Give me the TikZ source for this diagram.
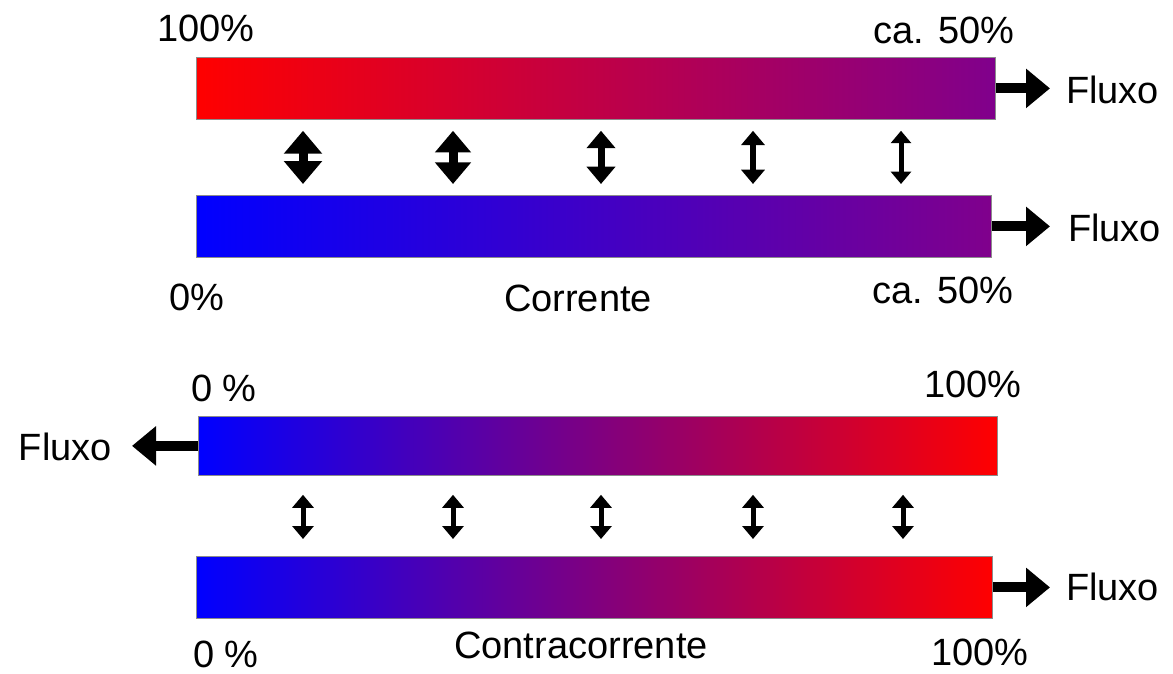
\documentclass[tikz,border=0pt]{standalone}
\usepackage{fontspec}
\setmainfont{Liberation Sans}
\usetikzlibrary{arrows.meta}
\definecolor{hotred}{RGB}{255,0,0}
\definecolor{coldblue}{RGB}{0,0,255}
\definecolor{mixpurple}{RGB}{128,0,140}
\begin{document}
\begin{tikzpicture}[x=1pt,y=-1pt,
  bar/.style={rectangle, inner sep=0pt, anchor=north west, draw=black!45,
    line width=0.8pt, minimum height=62pt},
  lbl/.style={font=\fontsize{38}{40}\selectfont, inner sep=0pt},
  flow/.style={line width=10pt, -{Triangle[width=38pt,length=24pt]}},
]
\useasboundingbox (0,0) rectangle (1173,674);

% --- co-current exchanger ---
\node[bar, minimum width=799pt, left color=hotred, right color=mixpurple] (b1) at (196,57) {};
\node[bar, minimum width=795pt, left color=coldblue, right color=mixpurple] (b2) at (196,195) {};

\node[lbl] (t1) at (206,28) {100\%};
\node[lbl] (t2) at (944,30) {ca. 50\%};
\node[lbl] (t3) at (197,297) {0\%};
\node[lbl] (t4) at (578,298) {Corrente};
\node[lbl] (t5) at (943,290) {ca. 50\%};

\node[lbl, anchor=west] (f1) at (1066,90) {Fluxo};
\node[lbl, anchor=west] (f2) at (1068,228) {Fluxo};
\draw[flow] (b1.east) -- ([xshift=-16pt]b1.east -| f1.west);
\draw[flow] (b2.east) -- ([xshift=-18pt]b2.east -| f2.west);

% exchange arrows shrink along the flow
\foreach \d/\w/\s in {107/37/9, 257/35/9, 405/28/7, 557/23/6, 705/20/5}
  \draw[line width=\s pt,
        {Triangle[width=\w pt,length=0.62*\w pt]}-{Triangle[width=\w pt,length=0.62*\w pt]}]
    ([shift={(\d,11)}]b1.south west) -- ([shift={(\d,-11)}]b2.north west);

% --- counter-current exchanger ---
\node[bar, minimum width=799pt, minimum height=59pt, left color=coldblue, right color=hotred] (b3) at (198,416) {};
\node[bar, minimum width=796pt, left color=coldblue, right color=hotred] (b4) at (196,556) {};

\node[lbl] (t6) at (224,388) {0 \%};
\node[lbl] (t7) at (973,384) {100\%};
\node[lbl] (t8) at (581,645) {Contracorrente};
\node[lbl] (t9) at (226,654) {0 \%};
\node[lbl] (t10) at (980,652) {100\%};

\node[lbl, anchor=east] (f3) at (112,447) {Fluxo};
\node[lbl, anchor=west] (f4) at (1066,587) {Fluxo};
\draw[flow] (b3.west) -- ([xshift=20pt]b3.west -| f3.east);
\draw[flow] (b4.east) -- ([xshift=-16pt]b4.east -| f4.west);

\foreach \d in {105, 255, 403, 555, 705}
  \draw[line width=5pt,
        {Triangle[width=21pt,length=13pt]}-{Triangle[width=21pt,length=13pt]}]
    ([shift={(\d,19)}]b3.south west) -- ([shift={(\d+2,-17)}]b4.north west);
\end{tikzpicture}
\end{document}
